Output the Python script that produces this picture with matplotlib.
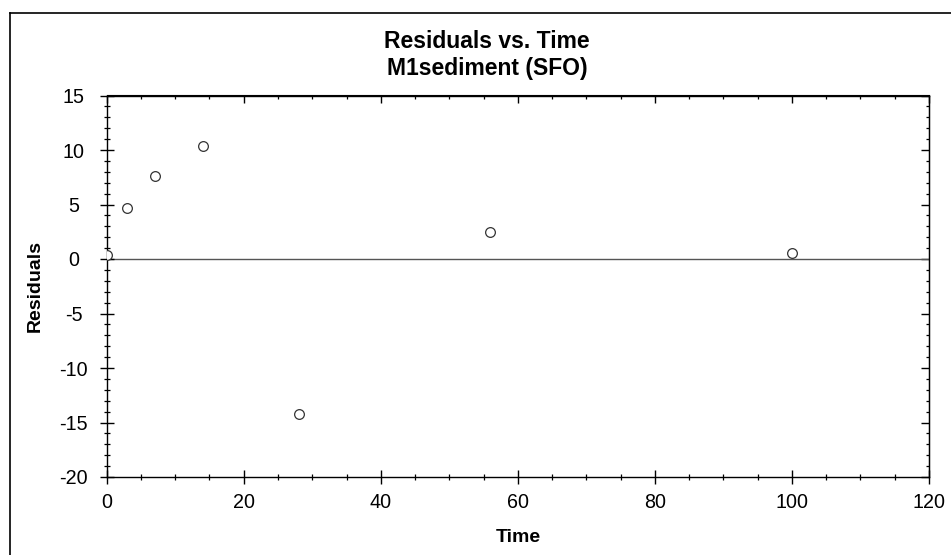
# Residuals vs. Time plot for M1sediment (SFO)

import matplotlib
matplotlib.use("Agg")
import matplotlib.pyplot as plt
from matplotlib.lines import Line2D
from matplotlib.ticker import MultipleLocator

plt.rcParams["font.family"] = ["Liberation Sans", "DejaVu Sans"]
plt.rcParams["axes.unicode_minus"] = False

# ── Data ───────────────────────────────────────────────────────────────────────
time      = [0, 3, 7, 14, 28, 56, 100]
residuals = [0.4, 4.65, 7.65, 10.35, -14.2, 2.5, 0.55]

x_ticks = [0, 20, 40, 60, 80, 100, 120]
y_ticks = [-20, -15, -10, -5, 0, 5, 10, 15]

title_text = "Residuals vs. Time\nM1sediment (SFO)"

# ── Figure ─────────────────────────────────────────────────────────────────────
W, H = 951, 555
fig = plt.figure(figsize=(W / 100, H / 100), dpi=100)
ax = fig.add_axes([106.7 / W, 1 - 477 / H, (929 - 106.7) / W, (477 - 95.5) / H])

# frame lines round the figure (left and top only are visible)
fig.add_artist(Line2D([9.5 / W, 9.5 / W], [0, 1 - 12.5 / H], transform=fig.transFigure,
                      color="black", lw=1.2))
fig.add_artist(Line2D([9.5 / W, 1], [1 - 12.5 / H, 1 - 12.5 / H], transform=fig.transFigure,
                      color="black", lw=1.2))

ax.axhline(0, color="#555555", lw=1.0, zorder=1)
ax.plot(time, residuals, linestyle="none", marker="o", ms=7,
        mfc="white", mec="#333333", mew=0.9, zorder=3)

ax.set_xlim(0, 120)
ax.set_ylim(-20, 15)
ax.set_xticks(x_ticks)
ax.set_yticks(y_ticks)
ax.xaxis.set_minor_locator(MultipleLocator(5))
ax.yaxis.set_minor_locator(MultipleLocator(1))

for s in ax.spines.values():
    s.set_linewidth(1.0)

ax.tick_params(which="major", direction="inout", length=9.6, width=1.0,
               labelsize=14.2, top=False, right=False)
ax.tick_params(which="minor", direction="inout", length=4.8, width=0.9,
               top=False, right=False)
ax.tick_params(axis="x", which="major", pad=7.0)
ax.tick_params(axis="y", which="major", pad=19.0)
for lab in ax.get_yticklabels():
    lab.set_horizontalalignment("center")

# inward ticks on the top and right sides
top = ax.secondary_xaxis("top")
top.set_xticks(x_ticks)
top.xaxis.set_minor_locator(MultipleLocator(5))
top.tick_params(which="major", direction="in", length=5.5, width=1.0, labeltop=False)
top.tick_params(which="minor", direction="in", length=2.6, width=0.9)
right = ax.secondary_yaxis("right")
right.set_yticks(y_ticks)
right.yaxis.set_minor_locator(MultipleLocator(1))
right.tick_params(which="major", direction="in", length=5.5, width=1.0, labelright=False)
right.tick_params(which="minor", direction="in", length=2.4, width=0.9)

ax.set_xlabel("Time", fontsize=14, fontweight="bold", labelpad=12)
ax.set_ylabel("Residuals", fontsize=14, fontweight="bold", labelpad=11)

fig.text(487 / W, 1 - 30 / H, title_text, ha="center", va="top",
         fontsize=16.5, fontweight="bold", linespacing=1.2)

fig.savefig("out.png", dpi=100)
